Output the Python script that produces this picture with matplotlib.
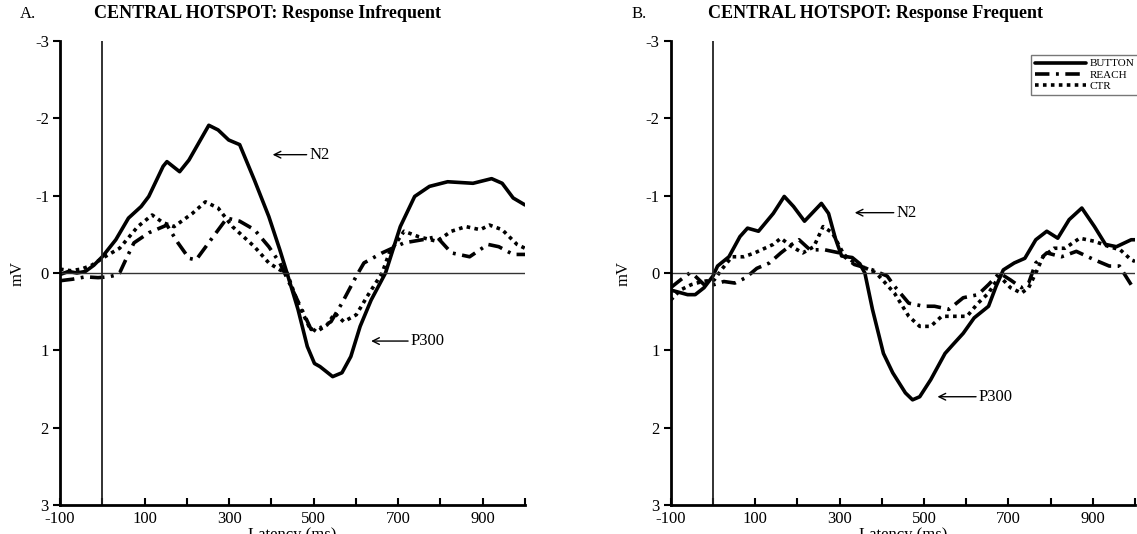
import numpy as np
import matplotlib.pyplot as plt

plt.rcParams['font.family'] = ['Liberation Serif', 'DejaVu Serif']

# panel A: response infrequent
a_button_t = [-100, -80, -60, -40, -20, 0, 32, 62, 92, 110, 144, 153, 183, 205, 252, 274, 299, 325, 360, 394,
              420, 437, 463, 485, 502, 515, 545, 567, 588, 610, 636, 670, 705, 739, 774, 817, 877, 921, 946, 972, 1000]
a_button_v = [0.02, -0.02, 0.0, -0.02, -0.1, -0.21, -0.43, -0.71, -0.86, -0.99, -1.38, -1.44, -1.31, -1.46, -1.91,
              -1.85, -1.72, -1.66, -1.20, -0.73, -0.30, 0.0, 0.47, 0.95, 1.17, 1.21, 1.34, 1.29, 1.08, 0.69, 0.35,
              0.0, -0.60, -0.99, -1.12, -1.18, -1.16, -1.22, -1.16, -0.97, -0.88]

a_reach_t = [-100, -70, -40, -10, 15, 30, 41, 58, 75, 110, 153, 179, 205, 222, 257, 295, 325, 360, 394, 420, 446,
             472, 494, 515, 541, 567, 601, 619, 662, 714, 757, 791, 826, 869, 912, 938, 972, 1000]
a_reach_v = [0.1, 0.08, 0.05, 0.06, 0.05, 0.03, 0.0, -0.2, -0.39, -0.52, -0.62, -0.39, -0.19, -0.17, -0.43, -0.71,
             -0.67, -0.56, -0.34, -0.13, 0.17, 0.47, 0.73, 0.71, 0.63, 0.39, 0.04, -0.13, -0.26, -0.39, -0.43,
             -0.47, -0.26, -0.21, -0.37, -0.34, -0.24, -0.24]

a_ctr_t = [-100, -75, -50, -25, 6, 41, 84, 118, 144, 170, 213, 244, 274, 308, 360, 394, 420, 437, 463, 489, 507,
           532, 550, 571, 601, 627, 662, 679, 714, 748, 791, 826, 860, 894, 916, 946, 981, 1000]
a_ctr_v = [-0.05, -0.03, -0.05, -0.1, -0.21, -0.32, -0.60, -0.75, -0.65, -0.60, -0.77, -0.92, -0.84, -0.60, -0.34,
           -0.13, -0.04, 0.0, 0.39, 0.69, 0.76, 0.67, 0.52, 0.63, 0.54, 0.30, 0.0, -0.26, -0.54, -0.47, -0.41,
           -0.54, -0.60, -0.56, -0.62, -0.56, -0.37, -0.32]

# panel B: response frequent
b_button_t = [-100, -60, -42, -21, 0, 11, 38, 64, 82, 108, 143, 169, 191, 217, 257, 274, 290, 305, 330, 348, 360,
              378, 404, 426, 456, 473, 490, 516, 550, 568, 593, 619, 653, 671, 688, 714, 739, 765, 791, 817, 844,
              874, 904, 930, 956, 991, 1000]
b_button_v = [0.22, 0.28, 0.28, 0.19, 0.04, -0.09, -0.21, -0.47, -0.58, -0.54, -0.77, -0.99, -0.86, -0.67, -0.90,
              -0.77, -0.45, -0.22, -0.2, -0.12, 0.0, 0.47, 1.04, 1.29, 1.55, 1.64, 1.60, 1.38, 1.04, 0.93, 0.78,
              0.58, 0.43, 0.17, -0.04, -0.13, -0.19, -0.43, -0.54, -0.45, -0.69, -0.84, -0.60, -0.37, -0.34,
              -0.43, -0.43]

b_reach_t = [-100, -77, -55, -42, -21, 3, 26, 52, 78, 104, 134, 161, 187, 204, 230, 265, 300, 335, 378, 413, 430,
             464, 499, 525, 559, 593, 628, 653, 679, 705, 731, 748, 765, 791, 826, 861, 904, 939, 963, 993, 1000]
b_reach_v = [0.19, 0.09, 0.0, 0.04, 0.15, 0.15, 0.11, 0.13, 0.06, -0.06, -0.13, -0.26, -0.37, -0.43, -0.30, -0.30,
             -0.26, -0.11, -0.04, 0.04, 0.17, 0.39, 0.43, 0.43, 0.47, 0.32, 0.28, 0.15, 0.0, 0.09, 0.19, 0.13,
             -0.13, -0.26, -0.21, -0.28, -0.17, -0.09, -0.09, 0.17, 0.2]

b_ctr_t = [-100, -77, -51, -25, 3, 20, 45, 73, 99, 143, 161, 187, 213, 239, 261, 283, 310, 336, 371, 387, 430,
           464, 490, 516, 542, 568, 602, 628, 653, 679, 705, 731, 748, 765, 782, 808, 834, 869, 904, 939, 965,
           991, 1000]
b_ctr_v = [0.35, 0.22, 0.15, 0.11, 0.09, -0.04, -0.21, -0.21, -0.26, -0.37, -0.45, -0.34, -0.26, -0.34, -0.60,
           -0.52, -0.24, -0.13, -0.04, 0.0, 0.26, 0.56, 0.69, 0.69, 0.56, 0.56, 0.56, 0.39, 0.26, 0.04, 0.19,
           0.26, 0.19, 0.0, -0.21, -0.32, -0.32, -0.45, -0.41, -0.34, -0.30, -0.17, -0.15]

W, H = 1137, 534
fig = plt.figure(figsize=(W / 100, H / 100), dpi=100)
axA = fig.add_axes([60 / W, 1 - 505 / H, 465 / W, 464 / H])
axB = fig.add_axes([670.7 / W, 1 - 505 / H, 464.3 / W, 464 / H])

reach_style = (0, (4, 1.8, 0.8, 1.8))
ctr_style = (0, (1, 1.2))


def draw(ax, bt, bv, rt, rv, ct, cv):
    ax.plot(bt, bv, color='black', lw=2.6, solid_capstyle='round', solid_joinstyle='round', label='BUTTON')
    ax.plot(rt, rv, color='black', lw=2.6, linestyle=reach_style, dash_capstyle='butt',
            dash_joinstyle='round', label='REACH')
    ax.plot(ct, cv, color='black', lw=2.6, linestyle=ctr_style, dash_capstyle='butt',
            dash_joinstyle='round', label='CTR')
    ax.axhline(0, color='#333333', lw=1)
    ax.axvline(0, color='#222222', lw=1.3)
    ax.set_xlim(-100, 1000)
    ax.set_ylim(3, -3)
    ax.spines['top'].set_visible(False)
    ax.spines['right'].set_visible(False)
    ax.spines['left'].set_linewidth(2)
    ax.spines['bottom'].set_linewidth(2)
    ax.set_yticks([-3, -2, -1, 0, 1, 2, 3])
    ax.set_yticklabels(['-3', '-2', '-1', '0', '1', '2', '3'])
    xt = list(range(-100, 1001, 100))
    ax.set_xticks(xt)
    ax.set_xticklabels([str(v) if v % 200 != 0 else '' for v in xt])
    ax.tick_params(axis='y', direction='out', length=5, width=1.5, labelsize=12, pad=3)
    ax.tick_params(axis='x', direction='in', length=5, width=1.5, labelsize=12, pad=4)


draw(axA, a_button_t, a_button_v, a_reach_t, a_reach_v, a_ctr_t, a_ctr_v)
draw(axB, b_button_t, b_button_v, b_reach_t, b_reach_v, b_ctr_t, b_ctr_v)

arrow = dict(arrowstyle='->', color='black', lw=1, shrinkA=0, shrinkB=0)
axA.annotate('N2', xy=(403, -1.53), xytext=(490, -1.53), fontsize=12, va='center', arrowprops=arrow)
axA.annotate('P300', xy=(636, 0.88), xytext=(730, 0.88), fontsize=12, va='center', arrowprops=arrow)
axB.annotate('N2', xy=(336, -0.78), xytext=(435, -0.78), fontsize=12, va='center', arrowprops=arrow)
axB.annotate('P300', xy=(532, 1.6), xytext=(630, 1.6), fontsize=12, va='center', arrowprops=arrow)

leg = axB.legend(loc='upper right', bbox_to_anchor=(1.012, 0.975), fontsize=8, frameon=True, fancybox=False,
                 edgecolor='#555555', handlelength=4.6, handletextpad=0.3, borderpad=0.35, labelspacing=0.15,
                 borderaxespad=0.2)
leg.get_frame().set_linewidth(1)

fig.text(20 / W, 1 - 14 / H, 'A.', fontsize=12, va='center')
fig.text(268 / W, 1 - 14 / H, 'CENTRAL HOTSPOT: Response Infrequent', fontsize=13, fontweight='bold',
         ha='center', va='center')
fig.text(632 / W, 1 - 14 / H, 'B.', fontsize=12, va='center')
fig.text(875 / W, 1 - 14 / H, 'CENTRAL HOTSPOT: Response Frequent', fontsize=13, fontweight='bold',
         ha='center', va='center')
fig.text(18 / W, 1 - 273 / H, 'mV', fontsize=12, rotation=90, ha='center', va='center')
fig.text(624 / W, 1 - 273 / H, 'mV', fontsize=12, rotation=90, ha='center', va='center')
fig.text(292 / W, 1 - 527 / H, 'Latency (ms)', fontsize=12, ha='center', va='top')
fig.text(903 / W, 1 - 527 / H, 'Latency (ms)', fontsize=12, ha='center', va='top')

fig.savefig('out.png', dpi=100)
